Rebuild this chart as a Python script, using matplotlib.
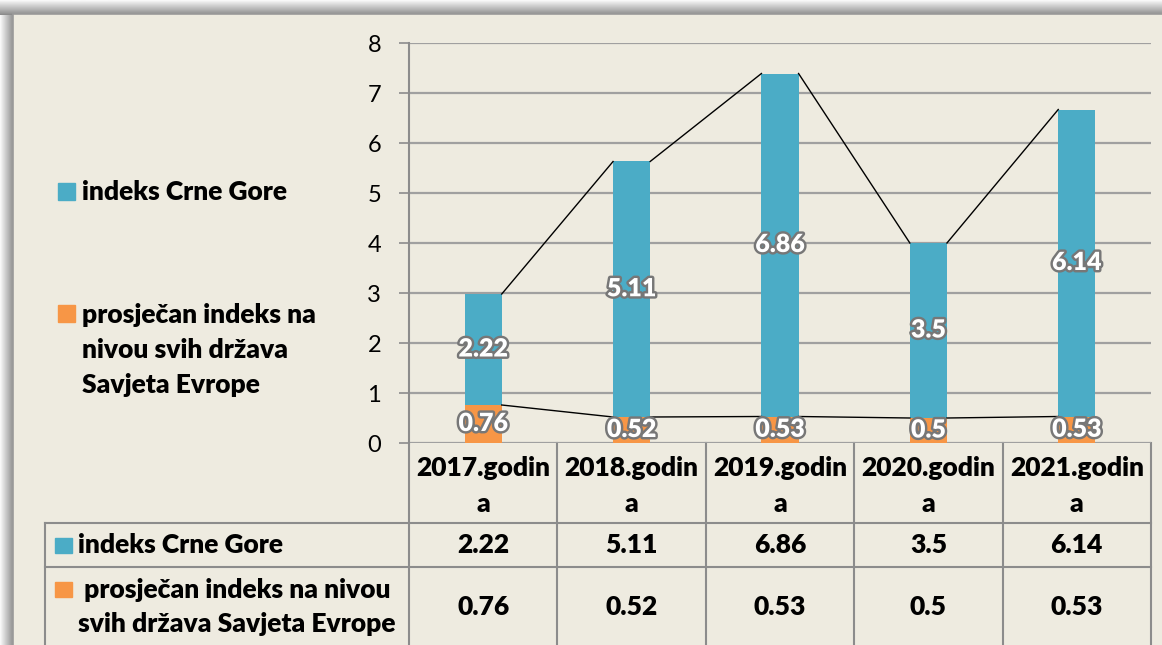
# -*- coding: utf-8 -*-
# indeks Crne Gore vs prosjek Savjeta Evrope - stacked bar + data table

import numpy as np
import matplotlib
matplotlib.use("Agg")
import matplotlib.pyplot as plt
import matplotlib.patheffects as pe
from matplotlib.transforms import blended_transform_factory
from matplotlib.patches import Rectangle

# =============================================================================
# data
# =============================================================================
godine = ["2017.godin\na", "2018.godin\na", "2019.godin\na", "2020.godin\na", "2021.godin\na"]
indeks_cg = [2.22, 5.11, 6.86, 3.5, 6.14]
indeks_se = [0.76, 0.52, 0.53, 0.5, 0.53]
naziv_cg = "indeks Crne Gore"
naziv_se = "prosječan indeks na nivou svih država Savjeta Evrope"

plava = "#4BACC6"
narandz = "#F79646"
pozadina = "#EEEBE0"
linija = "#8C8C8C"

plt.rcParams["font.family"] = ["Lato", "DejaVu Sans"]

W, H = 1162, 645
fig = plt.figure(figsize=(W / 100, H / 100), dpi=100)
fig.patch.set_facecolor("white")

# overlay u pikselima (pozadina, legenda, tabela)
ov = fig.add_axes([0, 0, 1, 1], zorder=0)
ov.set_xlim(0, W)
ov.set_ylim(H, 0)
ov.axis("off")

# sjena lijevo i gore
grad = np.linspace(0.97, 0.55, 14)
ov.imshow(grad[np.newaxis, :], cmap="gray", vmin=0, vmax=1, extent=(0, 14, H, 0), aspect="auto")
ov.imshow(grad[:, np.newaxis], cmap="gray", vmin=0, vmax=1, extent=(0, W, 15, 0), aspect="auto")
ov.add_patch(Rectangle((13, 14), W, H, facecolor=pozadina, edgecolor="#9a9a9a", lw=1.2))
ov.set_xlim(0, W)
ov.set_ylim(H, 0)

# =============================================================================
# glavni grafikon
# =============================================================================
x0, x1, y0, y1 = 409, 1151, 43, 443
ax = fig.add_axes([x0 / W, (H - y1) / H, (x1 - x0) / W, (y1 - y0) / H], zorder=2)
ax.set_facecolor("none")

x = np.arange(len(godine))
sirina = 0.25
ukupno = np.array(indeks_se) + np.array(indeks_cg)

ax.bar(x, indeks_se, width=sirina, color=narandz, zorder=3)
ax.bar(x, indeks_cg, bottom=indeks_se, width=sirina, color=plava, zorder=3)

# linije izmedju stubova
for k in range(len(x) - 1):
    ax.plot([x[k] + sirina / 2, x[k + 1] - sirina / 2], [ukupno[k], ukupno[k + 1]],
            color="black", lw=1, zorder=4)
    ax.plot([x[k] + sirina / 2, x[k + 1] - sirina / 2], [indeks_se[k], indeks_se[k + 1]],
            color="black", lw=1, zorder=4)

tezina = "heavy"
efekat = [pe.withStroke(linewidth=3.5, foreground="#777777")]
for k in range(len(x)):
    ax.text(x[k], indeks_se[k] / 2, f"{indeks_se[k]:g}", ha="center", va="center",
            color="white", fontsize=18, fontweight=tezina, path_effects=efekat, zorder=5)
    ax.text(x[k], indeks_se[k] + indeks_cg[k] / 2, f"{indeks_cg[k]:g}", ha="center",
            va="center", color="white", fontsize=18, fontweight=tezina,
            path_effects=efekat, zorder=5)

ax.set_xlim(-0.5, 4.5)
ax.set_ylim(0, 8)
ax.set_yticks(range(0, 9))
ax.set_xticks([])
ax.yaxis.grid(True, color="#A0A0A0", lw=1.6)
ax.set_axisbelow(True)
for s in ["top", "right", "bottom"]:
    ax.spines[s].set_visible(False)
ax.spines["left"].set_color(linija)
ax.spines["left"].set_linewidth(1.5)
ax.tick_params(axis="y", length=7, width=1.2, color=linija, labelsize=17, pad=13,
               labelcolor="black")

# =============================================================================
# legenda lijevo
# =============================================================================
fs = 19
ov.add_patch(Rectangle((58, 183), 17, 17, color=plava))
ov.text(82, 192, naziv_cg, fontsize=fs, fontweight=tezina, va="center", ha="left")
ov.add_patch(Rectangle((58, 305), 17, 17, color=narandz))
ov.text(82, 303, "prosječan indeks na\nnivou svih država\nSavjeta Evrope", fontsize=fs,
        fontweight=tezina, va="top", ha="left", linespacing=1.55)

# =============================================================================
# tabela
# =============================================================================
bt = blended_transform_factory(ax.transData, ov.transData)
granice = np.arange(len(godine) + 1) - 0.5
for g in granice:
    ov.plot([g, g], [443, H], color=linija, lw=1.5, transform=bt, zorder=1)
for yy in [523, 567]:
    ov.plot([45, x1], [yy, yy], color=linija, lw=1.5, zorder=1)
ov.plot([45, 45], [523, H], color=linija, lw=1.5, zorder=1)

for k in range(len(x)):
    ov.text(x[k], 486, godine[k], transform=bt, ha="center", va="center", fontsize=fs,
            fontweight=tezina, linespacing=1.6)
    ov.text(x[k], 545, f"{indeks_cg[k]:g}", transform=bt, ha="center", va="center",
            fontsize=fs, fontweight=tezina)
    ov.text(x[k], 607, f"{indeks_se[k]:g}", transform=bt, ha="center", va="center",
            fontsize=fs, fontweight=tezina)

ov.add_patch(Rectangle((55, 538), 17, 15, color=plava))
ov.text(78, 545, naziv_cg, fontsize=fs, fontweight=tezina, va="center", ha="left")
ov.add_patch(Rectangle((55, 582), 17, 15, color=narandz))
ov.text(78, 607, " prosječan indeks na nivou\nsvih država Savjeta Evrope", fontsize=fs,
        fontweight=tezina, va="center", ha="left", linespacing=1.55)

fig.savefig("out.png", dpi=100, facecolor=fig.get_facecolor())
